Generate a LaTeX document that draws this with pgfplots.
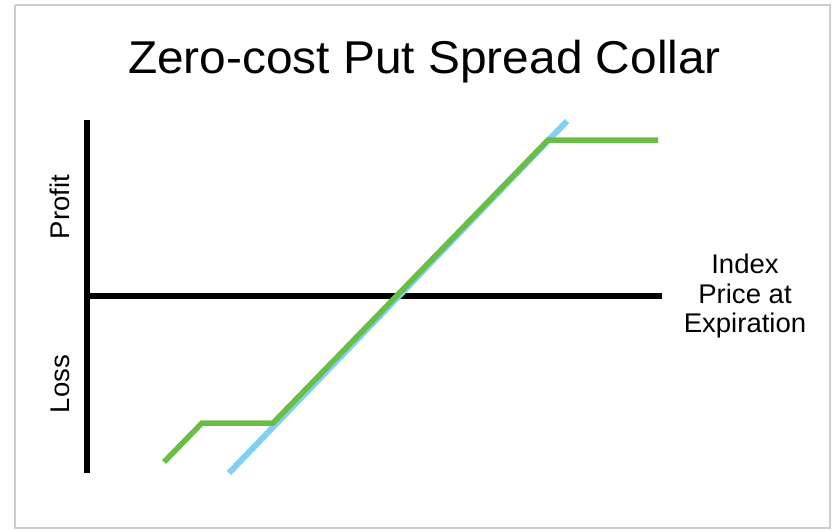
\documentclass[border=0pt]{standalone}
\usepackage{pgfplots}
\pgfplotsset{compat=1.18}
\usepackage{fontspec}
\setmainfont{Liberation Sans}
\newfontfamily\titlefont[FakeStretch=1.04]{Liberation Sans}
\newfontfamily\labelfont[FakeStretch=1.02]{Liberation Sans}
\definecolor{pgreen}{RGB}{106,190,70}
\definecolor{pblue}{RGB}{128,208,245}
\definecolor{frame}{RGB}{205,205,205}
\begin{document}
\begin{tikzpicture}
\begin{axis}[
  width=834pt, height=530pt, scale only axis,
  xmin=0, xmax=834, ymin=0, ymax=530, y dir=reverse,
  axis lines=none, clip=false,
]
% frame
\addplot[frame, line width=2.5pt] coordinates {(15,5) (830,5) (830,528) (15,528) (15,5)};
% axes
\addplot[black, line width=6pt] coordinates {(87,120) (87,473)};
\addplot[black, line width=6pt] coordinates {(84,296) (662,296)};
% underlying index (blue)
\addplot[pblue, line width=6pt] coordinates {(229,473) (567,121)};
% collar (green)
\addplot[pgreen, line width=5.5pt, line join=miter] coordinates {(164,462) (202,423) (273,423) (548,140) (658,140)};
% texts
\node[anchor=base, font=\titlefont\fontsize{46}{50}\selectfont] at (axis cs:424.5,73) {Zero-cost Put Spread Collar};
\node[anchor=base, font=\labelfont\fontsize{27}{30}\selectfont] at (axis cs:745,273) {Index};
\node[anchor=base, font=\labelfont\fontsize{27}{30}\selectfont] at (axis cs:745,303) {Price at};
\node[anchor=base, font=\labelfont\fontsize{27}{30}\selectfont] at (axis cs:745,332) {Expiration};
\node[anchor=base, rotate=90, font=\labelfont\fontsize{27}{30}\selectfont] at (axis cs:69,207) {Profit};
\node[anchor=base, rotate=90, font=\labelfont\fontsize{27}{30}\selectfont] at (axis cs:69,384) {Loss};
\end{axis}
\pgfresetboundingbox
\path[use as bounding box] (current axis.south west) rectangle (current axis.north east);
\end{tikzpicture}
\end{document}
